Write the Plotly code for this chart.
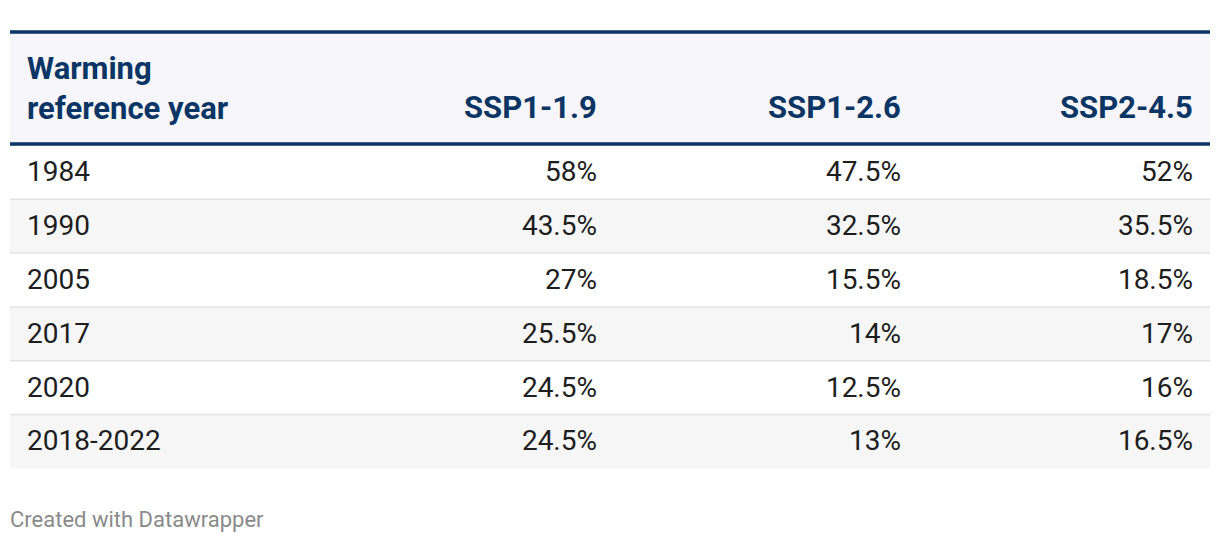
import plotly.graph_objects as go

# ---- data ----
years = ["1984", "1990", "2005", "2017", "2020", "2018-2022"]
scenarios = ["SSP1-1.9", "SSP1-2.6", "SSP2-4.5"]
ssp119 = [58, 43.5, 27, 25.5, 24.5, 24.5]
ssp126 = [47.5, 32.5, 15.5, 14, 12.5, 13]
ssp245 = [52, 35.5, 18.5, 17, 16, 16.5]
first_header = "Warming<br>reference year"
footer_text = "Created with Datawrapper"

# ---- layout constants (pixels) ----
W, H = 1220, 544
TBL_L, TBL_R = 10, 1210
HEAD_TOP, HEAD_BOT = 30, 146
ROW_TOP = 145.5
ROW_H = 53.8
TEXT_DY = 2.0          # text sits slightly lower than plotly's "middle"
COL_LEFT = 27
COL_RIGHT = [597, 901, 1193]
NAVY = "#0b3564"
TEXT = "#1e1e1e"
FONT = "Roboto"


def py(p):
    """pixel y (from top) -> paper y"""
    return 1 - p / H


def fmt(v):
    return f"{v:g}%"


n = len(years)
d = TEXT_DY / ROW_H  # shift in category units
top = ROW_TOP + TEXT_DY
bot = top + n * ROW_H

fig = go.Figure()

# first column (row labels)
fig.add_trace(go.Scatter(
    x=[COL_LEFT] * n, y=years, mode="text", text=years,
    textposition="middle right",
    textfont=dict(family=FONT, size=28, color=TEXT),
    hoverinfo="skip", showlegend=False,
))

# value columns
for series, xr in zip([ssp119, ssp126, ssp245], COL_RIGHT):
    fig.add_trace(go.Scatter(
        x=[xr] * n, y=years, mode="text", text=[fmt(v) for v in series],
        textposition="middle left",
        textfont=dict(family=FONT, size=28, color=TEXT),
        hoverinfo="skip", showlegend=False,
    ))

shapes = []
# header background
shapes.append(dict(type="rect", xref="x", yref="paper", x0=TBL_L, x1=TBL_R,
                   y0=py(HEAD_BOT), y1=py(HEAD_TOP), fillcolor="#f6f6fa",
                   line=dict(width=0), layer="below"))
# zebra rows + separators
for i in range(n):
    if i % 2 == 1:
        shapes.append(dict(type="rect", xref="x", yref="y", x0=TBL_L, x1=TBL_R,
                           y0=i - 0.5 - d, y1=i + 0.5 - d, fillcolor="#f6f6f6",
                           line=dict(width=0), layer="below"))
    if i > 0:
        shapes.append(dict(type="line", xref="x", yref="y", x0=TBL_L, x1=TBL_R,
                           y0=i - 0.5 - d, y1=i - 0.5 - d,
                           line=dict(color="#e3e3e3", width=1.5), layer="below"))
# thick header borders
for yy in (HEAD_TOP + 2, HEAD_BOT - 2):
    shapes.append(dict(type="line", xref="x", yref="paper", x0=TBL_L, x1=TBL_R,
                       y0=py(yy), y1=py(yy), line=dict(color=NAVY, width=3.5)))

annotations = []
hfont = dict(family=FONT, size=31, color=NAVY, weight="bold")
annotations.append(dict(text=first_header, xref="x", yref="paper", x=COL_LEFT - 2,
                        y=py(88.5), xanchor="left", yanchor="middle", align="left",
                        showarrow=False, font=hfont))
for s, xr in zip(scenarios, COL_RIGHT):
    annotations.append(dict(text=s, xref="x", yref="paper", x=xr + 2, y=py(107.5),
                            xanchor="right", yanchor="middle", showarrow=False,
                            font=hfont))
annotations.append(dict(text=footer_text, xref="x", yref="paper", x=TBL_L - 2, y=py(519),
                        xanchor="left", yanchor="middle", showarrow=False,
                        font=dict(family=FONT, size=22, color="#8a8a8a")))

fig.update_layout(
    width=W, height=H,
    margin=dict(l=0, r=0, t=0, b=0),
    paper_bgcolor="white", plot_bgcolor="rgba(0,0,0,0)",
    xaxis=dict(range=[0, W], visible=False, fixedrange=True),
    yaxis=dict(type="category", categoryarray=years, categoryorder="array",
               range=[n - 0.5, -0.5], visible=False, fixedrange=True,
               domain=[py(bot), py(top)]),
    shapes=shapes, annotations=annotations,
)

fig.write_html("out.html", config=dict(displayModeBar=False),
               post_script="document.body.style.margin='0';document.body.style.overflow='hidden';")
